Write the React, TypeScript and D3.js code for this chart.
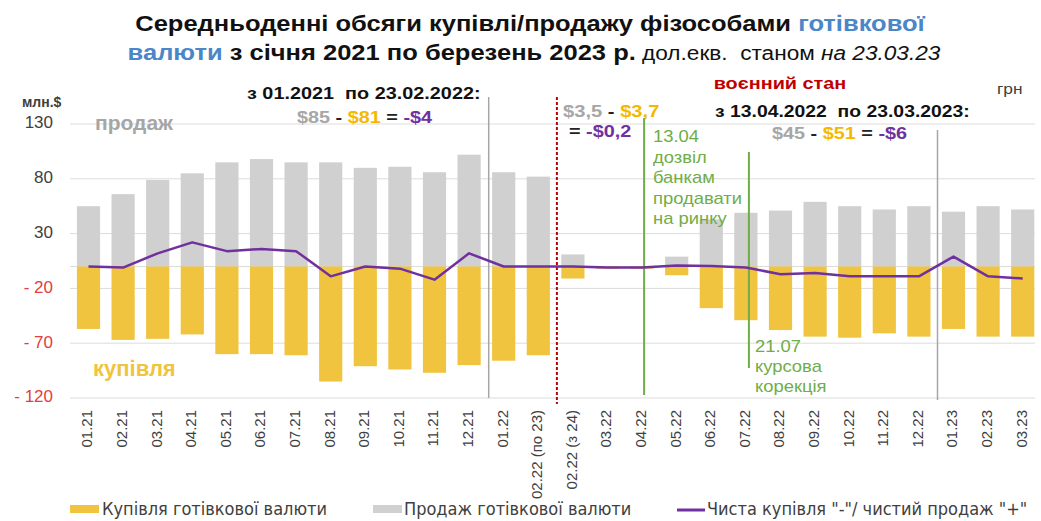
import * as d3 from "d3";
import type { ReactNode } from "react";

const categories = [
  "01.21", "02.21", "03.21", "04.21", "05.21", "06.21", "07.21", "08.21", "09.21", "10.21",
  "11.21", "12.21", "01.22", "02.22 (по 23)", "02.22 (з 24)", "03.22", "04.22", "05.22", "06.22",
  "07.22", "08.22", "09.22", "10.22", "11.22", "12.22", "01.23", "02.23", "03.23",
];
// продаж (positive, gray)
const sales = [
  55, 66, 79, 85, 95, 98, 95, 95, 90, 91, 86, 102, 86, 82, 11, 0.5, 0.3, 9, 43, 49, 51, 59, 55,
  52, 55, 50, 55, 52,
];
// купівля (negative, yellow)
const purchases = [
  -57, -67, -66, -62, -80, -80, -81, -105, -91, -94, -97, -90, -86, -81, -11, -2, -2, -8, -38,
  -49, -58, -64, -65, -61, -64, -57, -64, -64,
];
// чиста купівля / продаж (line)
const net = [
  0, -1, 12, 22, 14, 16, 14, -9, 0, -2, -12, 12, 0, 0, 0, -1, -1, 1, 0.5, -1, -7, -6, -9, -9,
  -9, 9, -9, -11,
];
const yTicks = [130, 80, 30, -20, -70, -120];
const greenNote1 = ["13.04", "дозвіл", "банкам", "продавати", "на ринку"];
const greenNote2 = ["21.07", "курсова", "корекція"];

const W = 1041;
const H = 521;
const FONT = "'Liberation Sans', Arial, sans-serif";
const COND = "'DejaVu Sans Condensed', 'Liberation Sans', sans-serif";

const C = {
  gray: "#d0d0d0",
  yellow: "#f0c43e",
  purple: "#7030a0",
  grid: "#dcdcdc",
  text: "#404040",
  red: "#c00000",
  green: "#70ad47",
  blue: "#4a86c8",
  goldText: "#f5b800",
  grayText: "#a6a6a6",
};

// the source picture is widened horizontally, so text is stretched a bit
function Wide({ x, y, k, children }: { x: number; y: number; k: number; children: ReactNode }) {
  return <g transform={`translate(${x},${y}) scale(${k},1)`}>{children}</g>;
}

export default function App() {
  const x = d3
    .scaleBand<string>()
    .domain(categories)
    .range([71.2, 1040])
    .paddingInner(0.33)
    .paddingOuter(0.165);
  const y = d3.scaleLinear().domain([-120, 130]).range([398, 124]);
  const cx = (c: string) => (x(c) ?? 0) + x.bandwidth() / 2;

  const line = d3
    .line<number>()
    .x((_, i) => cx(categories[i]))
    .y((d) => y(d));

  const sep1 = cx("01.22") - 15;
  const sepWar = cx("02.22 (з 24)") - 16;
  const sep2 = cx("01.23") - 16;
  const green1 = cx("04.22") + 2;
  const green2 = cx("07.22") + 3;

  const anno = { fontFamily: FONT, fontWeight: 700, fontSize: 16, whiteSpace: "pre" } as const;
  const K = 1.24;

  return (
    <svg
      width={W}
      height={H}
      style={{ position: "absolute", left: 0, top: 0, background: "#fff" }}
    >
      {/* title */}
      <Wide x={530} y={31} k={1.16}>
        <text textAnchor="middle" fontFamily={FONT} fontWeight={700} fontSize={22} fill="#111">
          Середньоденні обсяги купівлі/продажу фізособами <tspan fill={C.blue}>готівкової</tspan>
        </text>
      </Wide>
      <Wide x={534} y={60} k={1.16}>
        <text textAnchor="middle" fontFamily={FONT} fill="#111" style={{ whiteSpace: "pre" }}>
          <tspan fontWeight={700} fontSize={22} fill={C.blue}>валюти</tspan>
          <tspan fontWeight={700} fontSize={22}> з січня 2021 по березень 2023 р.</tspan>
          <tspan fontSize={19.5}> дол.екв.  станом </tspan>
          <tspan fontSize={19.5} fontStyle="italic">на 23.03.23</tspan>
        </text>
      </Wide>

      {/* grid */}
      {yTicks.map((t) => (
        <line key={t} x1={70} x2={1035} y1={y(t)} y2={y(t)} stroke={C.grid} strokeWidth={1} />
      ))}
      <line x1={70} x2={1035} y1={y(0)} y2={y(0)} stroke={C.grid} strokeWidth={1} />

      {/* y labels */}
      {yTicks.map((t) => (
        <text
          key={t}
          x={53}
          y={y(t)}
          textAnchor="end"
          dominantBaseline="middle"
          fontFamily={FONT}
          fontSize={17}
          fill={t < 0 ? "#e04040" : C.text}
        >
          {t < 0 ? `- ${Math.abs(t)}` : t}
        </text>
      ))}
      <text x={22} y={103} dominantBaseline="middle" fontFamily={FONT} fontWeight={700} fontSize={14} fill={C.text}>
        млн.$
      </text>

      {/* bars */}
      {categories.map((c, i) => (
        <g key={c}>
          <rect x={x(c)} width={x.bandwidth()} y={y(sales[i])} height={y(0) - y(sales[i])} fill={C.gray} />
          <rect x={x(c)} width={x.bandwidth()} y={y(0)} height={y(purchases[i]) - y(0)} fill={C.yellow} />
        </g>
      ))}

      {/* vertical markers */}
      <line x1={sep1} x2={sep1} y1={97} y2={398} stroke="#a6a6a6" strokeWidth={1.5} />
      <line x1={sep2} x2={sep2} y1={130} y2={400} stroke="#a6a6a6" strokeWidth={1.5} />
      <line x1={sepWar} x2={sepWar} y1={97} y2={404} stroke={C.red} strokeWidth={2} strokeDasharray="3,2" />
      <line x1={green1} x2={green1} y1={118} y2={395} stroke={C.green} strokeWidth={2} />
      <line x1={green2} x2={green2} y1={152} y2={368} stroke={C.green} strokeWidth={2} />

      {/* net line */}
      <path d={line(net) ?? ""} fill="none" stroke={C.purple} strokeWidth={2.5} strokeLinejoin="round" />

      {/* x labels */}
      {categories.map((c) => (
        <text
          key={c}
          transform={`translate(${cx(c)},410) rotate(-90)`}
          textAnchor="end"
          dominantBaseline="middle"
          fontFamily={FONT}
          fontSize={15}
          fill={C.text}
        >
          {c}
        </text>
      ))}

      {/* in-chart labels */}
      <text x={95} y={124} dominantBaseline="middle" fontFamily={FONT} fontWeight={700} fontSize={21} fill={C.grayText}>
        продаж
      </text>
      <text x={93} y={370} dominantBaseline="middle" fontFamily={FONT} fontWeight={700} fontSize={22} fill={C.yellow}>
        купівля
      </text>

      <Wide x={247} y={95} k={K}>
        <text dominantBaseline="middle" style={anno} fill="#111">
          {"з 01.2021  по 23.02.2022:"}
        </text>
      </Wide>
      <Wide x={297} y={119} k={K}>
        <text dominantBaseline="middle" style={anno}>
          <tspan fill={C.grayText}>$85</tspan>
          <tspan fill="#222">{" - "}</tspan>
          <tspan fill={C.goldText}>$81</tspan>
          <tspan fill="#222">{" = "}</tspan>
          <tspan fill={C.purple}>-$4</tspan>
        </text>
      </Wide>

      <Wide x={780} y={85} k={K}>
        <text textAnchor="middle" dominantBaseline="middle" style={anno} fill={C.red}>
          воєнний стан
        </text>
      </Wide>
      <Wide x={997} y={90} k={K}>
        <text dominantBaseline="middle" fontFamily={FONT} fontSize={14} fill={C.text}>
          грн
        </text>
      </Wide>

      <Wide x={563} y={113} k={1.26}>
        <text dominantBaseline="middle" style={anno}>
          <tspan fill={C.grayText}>$3,5</tspan>
          <tspan fill="#222">{" - "}</tspan>
          <tspan fill={C.goldText}>$3,7</tspan>
        </text>
      </Wide>
      <Wide x={569} y={133} k={K}>
        <text dominantBaseline="middle" style={anno}>
          <tspan fill="#222">{"= "}</tspan>
          <tspan fill={C.purple}>-$0,2</tspan>
        </text>
      </Wide>

      <Wide x={715} y={113} k={1.21}>
        <text dominantBaseline="middle" style={anno} fill="#111">
          {"з 13.04.2022  по 23.03.2023:"}
        </text>
      </Wide>
      <Wide x={772} y={135} k={K}>
        <text dominantBaseline="middle" style={anno}>
          <tspan fill={C.grayText}>$45</tspan>
          <tspan fill="#222">{" - "}</tspan>
          <tspan fill={C.goldText}>$51</tspan>
          <tspan fill="#222">{" = "}</tspan>
          <tspan fill={C.purple}>-$6</tspan>
        </text>
      </Wide>

      {greenNote1.map((t, i) => (
        <Wide key={t} x={653} y={138 + i * 20.5} k={1.15}>
          <text dominantBaseline="middle" fontFamily={FONT} fontSize={16} fill={C.green}>
            {t}
          </text>
        </Wide>
      ))}
      {greenNote2.map((t, i) => (
        <Wide key={t} x={755} y={348 + i * 20} k={1.15}>
          <text dominantBaseline="middle" fontFamily={FONT} fontSize={16} fill={C.green}>
            {t}
          </text>
        </Wide>
      ))}

      {/* legend */}
      <rect x={70} y={505} width={29} height={8} fill={C.yellow} />
      <text x={102} y={510} dominantBaseline="middle" fontFamily={COND} fontSize={18} fill={C.text}>
        Купівля готівкової валюти
      </text>
      <rect x={373} y={505} width={29} height={8} fill={C.gray} />
      <text x={404} y={510} dominantBaseline="middle" fontFamily={COND} fontSize={18} fill={C.text}>
        Продаж готівкової валюти
      </text>
      <line x1={677} x2={705} y1={510} y2={510} stroke={C.purple} strokeWidth={3} />
      <text x={707} y={510} dominantBaseline="middle" fontFamily={COND} fontSize={18} fill={C.text}>
        Чиста купівля "-"/ чистий продаж "+"
      </text>
    </svg>
  );
}
